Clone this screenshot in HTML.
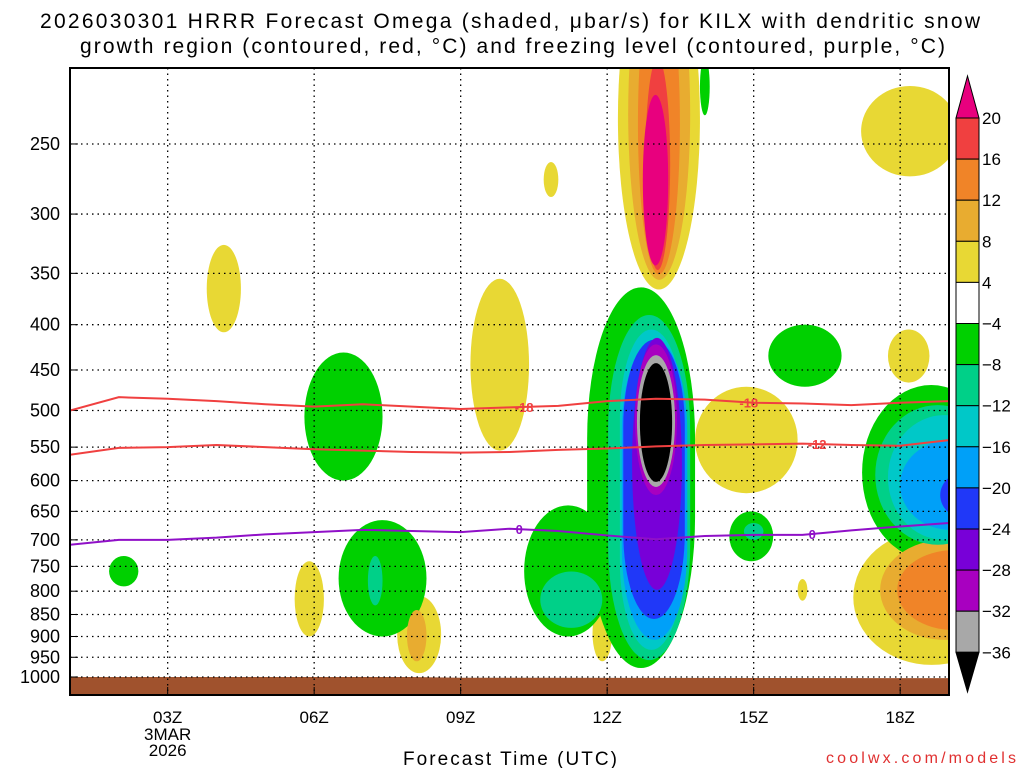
<!DOCTYPE html>
<html><head><meta charset="utf-8"><style>
body{margin:0;background:#fff}
svg text{font-family:"Liberation Sans",sans-serif}
</style></head><body>
<svg id="c" width="1024" height="768" xmlns="http://www.w3.org/2000/svg">
<text x="40" y="28" font-size="21" textLength="940" lengthAdjust="spacing">2026030301 HRRR Forecast Omega (shaded, μbar/s) for KILX with dendritic snow</text>
<text x="80" y="53" font-size="21" textLength="865" lengthAdjust="spacing">growth region (contoured, red, °C) and freezing level (contoured, purple, °C)</text>
<g id="plot"></g>
<text x="403" y="765" font-size="19" textLength="214" lengthAdjust="spacing">Forecast Time (UTC)</text>
<text x="826" y="763" font-size="16" fill="#e03030" textLength="190" lengthAdjust="spacing">coolwx.com/models</text>
</svg>
<script>
const colors=['#e8007e','#f04040','#f08428','#e8ac30','#e8d834','#ffffff','#00d000','#00d088','#00c8c8','#00a0f8','#2038f8','#7800d8','#a800c0','#a8a8a8','#000000'];
const cbLabels=['20','16','12','8','4','−4','−8','−12','−16','−20','−24','−28','−32','−36'];
const pTicks=[250,300,350,400,450,500,550,600,650,700,750,800,850,900,950,1000];
const hTicks=[3,6,9,12,15,18];
const hTickLabels=['03Z','06Z','09Z','12Z','15Z','18Z'];
// blobs: [hourStart, hourEnd, pTop, pBottom, colorIndex, shape(0 ellipse,1 stadium)]
const blobs=[
[12.22,13.9,150,365,4,0],[12.43,13.7,150,356,3,0],[12.63,13.49,160,351,2,0],[12.78,13.29,200,347,1,0],[12.73,13.25,220,343,0,0],
[17.2,19.2,215,272,4,0],[3.8,4.5,325,408,4,0],[10.7,11,262,287,4,0],[9.2,10.4,355,555,4,0],[13.8,15.9,470,620,4,0],[17.75,18.6,405,465,4,0],
[17.04,20.25,682,969,4,0],[17.59,20.25,700,908,3,0],[17.94,20.25,719,885,2,0],
[5.6,6.2,740,900,4,0],[7.7,8.6,810,990,4,0],[7.9,8.3,840,960,3,0],[11.7,12.1,830,960,4,0],[15.9,16.1,775,820,4,0],[13.4,13.6,650,690,4,0],
[11.59,13.8,363,977,6,1],[10.3,12.1,640,900,6,0],[5.8,7.4,430,600,6,0],[15.3,16.8,400,470,6,0],[17.22,20.05,468,738,6,0],[6.5,8.3,665,900,6,0],[14.5,15.4,650,740,6,0],[1.8,2.4,730,790,6,0],[13.9,14.1,200,232,6,0],
[12.02,13.7,390,957,7,1],[10.63,11.9,760,880,7,0],[17.49,20.05,493,709,7,0],[7.1,7.4,730,830,7,0],[14.8,15.2,670,700,7,0],
[12.26,13.55,405,932,8,1],[17.75,20.05,506,700,8,0],
[12.3,13.64,416,908,9,1],[18.0,20.05,540,682,9,0],
[12.33,13.59,416,860,10,1],[18.82,20.05,584,665,10,0],
[12.51,13.53,414,797,11,0],[12.57,13.43,421,623,12,0],[12.61,13.39,433,610,13,0],[12.67,13.33,442,602,14,0]
];
const hours=[1,2,3,4,5,6,7,8,9,10,11,12,13,14,15,16,17,18,19];
const line18=[500,483,485,488,492,495,492,495,498,496,494,488,485,486,490,491,493,490,488];
const line12=[561,551,550,547,550,553,555,557,558,557,554,552,549,547,546,545,547,548,540];
const line0=[709,700,700,696,690,686,682,684,686,680,684,692,699,693,691,691,683,676,670];
const X0=70,X1=949,Y0=68,Y1=695;
const xs=h=>X0+(h-1)*(X1-X0)/18;
const ys=p=>677-(Math.log(1000)-Math.log(p))*384.5;
const NS='http://www.w3.org/2000/svg';
const g=document.getElementById('plot');
function mk(t,a,par){const e=document.createElementNS(NS,t);for(const k in a)e.setAttribute(k,a[k]);(par||g).appendChild(e);return e;}
const defs=mk('defs',{});const cp=mk('clipPath',{id:'cl'},defs);mk('rect',{x:X0,y:Y0,width:X1-X0,height:Y1-Y0},cp);
const sh=mk('g',{'clip-path':'url(#cl)'});


blobs.slice().sort((a,b)=>Math.abs(a[4]-5)-Math.abs(b[4]-5)).forEach(b=>{const x1=xs(b[0]),x2=xs(b[1]),y1=ys(b[2]),y2=ys(b[3]);
let e;
if(b[5]===1){const w=x2-x1;e=mk('rect',{x:x1,y:y1,width:w,height:y2-y1,rx:w/2,ry:w*1.4,fill:colors[b[4]]},sh);}
else e=mk('ellipse',{cx:(x1+x2)/2,cy:(y1+y2)/2,rx:(x2-x1)/2,ry:(y2-y1)/2,fill:colors[b[4]]},sh);

});
const gr=mk('path',{d:`M${X0} ${ys(1000)}L${xs(8)} ${ys(1000)}L${xs(9)} ${ys(1002)}L${X1} ${ys(1003)}L${X1} ${Y1}L${X0} ${Y1}Z`,fill:'#a0522d'});


pTicks.forEach((p,i)=>{const y=ys(p);
const l=mk('line',{x1:X0,x2:X1,y1:y,y2:y,stroke:'#000','stroke-dasharray':'1.5,4','stroke-width':1.3});


mk('line',{x1:X0,x2:X0+8,y1:y,y2:y,stroke:'#000'});
const t=mk('text',{x:X0-10,y:y+6,'font-size':18,'text-anchor':'end'});t.textContent=p;

});
hTicks.forEach((h,i)=>{const x=xs(h);
const l=mk('line',{x1:x,x2:x,y1:Y0,y2:Y1,stroke:'#000','stroke-dasharray':'1.5,4','stroke-width':1.3});


mk('line',{x1:x,x2:x,y1:Y1,y2:Y1-8,stroke:'#000'});
const t=mk('text',{x:x,y:723,'font-size':17,'text-anchor':'middle'});t.textContent=hTickLabels[i];

});
[['3MAR',740],['2026',756]].forEach(a=>{const t=mk('text',{x:xs(3),y:a[1],'font-size':17,'text-anchor':'middle'});t.textContent=a[0];

});
function drawLine(arr,col,name,labs){const d=arr.map((p,i)=>(i?'L':'M')+xs(hours[i])+' '+ys(p)).join('');
const pth=mk('path',{d:d,fill:'none',stroke:col,'stroke-width':2,'clip-path':'url(#cl)'});


labs.forEach(l=>{const h=l[0],i=Math.floor(h)-1,f=h-Math.floor(h);const p=arr[i]+(arr[i+1]-arr[i])*f;
const t=mk('text',{x:xs(h),y:ys(p)+5,'font-size':13,'font-weight':'bold',fill:col,'text-anchor':'middle'});t.textContent=l[1];

});}
drawLine(line18,'#f04040','minus18-line',[[10.3,'-18'],[14.9,'-18']]);
drawLine(line12,'#f04040','minus12-line',[[16.3,'-12']]);
drawLine(line0,'#9010c8','freezing-line',[[10.2,'0'],[16.2,'0']]);
const fr=mk('rect',{x:X0,y:Y0,width:X1-X0,height:Y1-Y0,fill:'none',stroke:'#000','stroke-width':2});


const cb=mk('g',{});


const cx0=956,cx1=979,cT=118,bh=41.1;
mk('path',{d:`M${cx0} ${cT}L${(cx0+cx1)/2} 76L${cx1} ${cT}Z`,fill:colors[0],stroke:'#000'},cb);
for(let i=1;i<14;i++){mk('rect',{x:cx0,y:cT+(i-1)*bh,width:cx1-cx0,height:bh,fill:colors[i],stroke:'#000'},cb);}
const cB=cT+13*bh;
mk('path',{d:`M${cx0} ${cB}L${(cx0+cx1)/2} 692L${cx1} ${cB}Z`,fill:colors[14],stroke:'#000'},cb);
cbLabels.forEach((s,i)=>{const t=mk('text',{x:982,y:cT+i*bh+6,'font-size':17},cb);t.textContent=s;

});
</script>
</body></html>
